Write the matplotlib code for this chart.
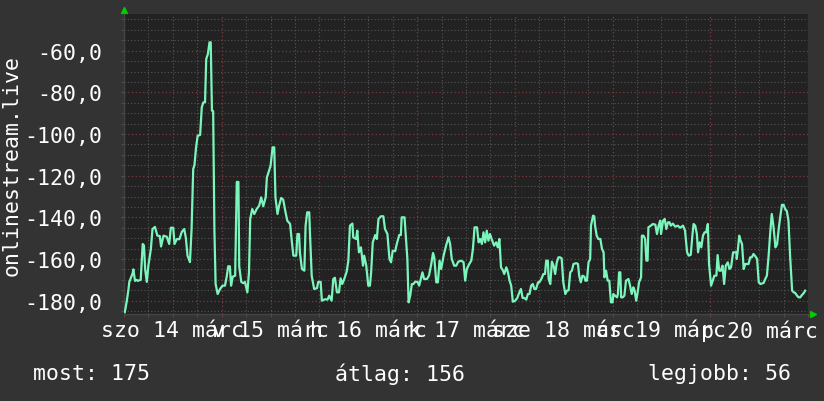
import matplotlib
matplotlib.use("Agg")
import matplotlib.pyplot as plt
import matplotlib.ticker as mticker
from matplotlib.transforms import blended_transform_factory

# hours since sat 14 march 00:00, and the plotted (negative) values
hours = [
    0.2, 0.7, 1.1, 1.3, 2.1, 2.3, 2.7, 3.1, 3.4, 4.1, 4.6, 4.9, 5.2, 5.6, 6.0,
    6.6, 7.0, 7.6, 8.2, 8.8, 9.1, 9.7, 10.5, 11.1, 11.5, 12.1, 12.4, 13.0, 13.6,
    14.2, 14.8, 15.2, 15.6, 16.2, 16.6, 17.0, 17.3, 17.7, 18.1, 18.7, 19.1, 19.5,
    19.9, 20.2, 20.6, 21.0, 21.3, 21.6, 21.9, 22.2, 22.5, 23.0, 23.6,
    24.2, 24.8, 25.2, 25.6, 26.0, 26.3, 26.7, 27.3, 27.7, 28.1, 28.3, 28.8, 29.3,
    29.7, 30.3, 30.7, 31.0, 31.5, 32.0, 32.6, 33.2, 33.7, 34.2, 34.8, 35.1, 35.5,
    36.0, 36.5, 36.9, 37.2, 37.7, 38.1, 38.6, 39.1, 39.6, 40.1, 40.8, 41.2, 41.6,
    42.3, 42.6, 43.0, 43.2, 43.7, 44.3, 44.6, 45.0, 45.5, 45.7, 46.1, 46.7, 47.4,
    47.7,
    48.3, 48.6, 49.4, 50.0, 50.4, 51.0, 51.4, 51.8, 52.3, 52.8, 53.2, 53.6, 54.1,
    54.7, 55.1, 55.5, 56.1, 56.3, 57.0, 57.3, 57.7, 58.2, 58.7, 59.0, 59.5, 60.0,
    60.4, 60.7, 61.1, 61.7, 62.1, 62.5, 63.1, 63.7, 64.1, 64.7, 65.2, 65.6, 66.0,
    66.6, 67.0, 67.6, 68.0, 68.2, 68.9, 69.2, 69.6, 69.9, 70.3, 70.7, 71.1, 71.5,
    72.1, 72.5, 72.9, 73.3, 73.7, 74.4, 74.9, 75.4, 75.9, 76.2, 76.7, 77.1, 77.5,
    77.9, 78.5, 79.1, 79.7, 80.1, 80.5, 81.1, 81.6, 82.1, 82.8, 83.4, 83.8, 84.2,
    84.8, 85.3, 85.7, 86.1, 86.7, 87.1, 87.5, 87.9, 88.3, 88.7, 89.1, 89.5, 89.9,
    90.3, 90.9, 91.4, 91.8, 92.2, 92.6, 93.1, 93.4, 93.9, 94.3, 94.7, 95.1, 95.5,
    96.1, 96.6, 97.1, 97.5, 97.9, 98.3, 98.8, 99.2, 99.6, 100.0, 100.4, 100.8,
    101.2, 101.7, 102.0, 102.5, 103.0, 103.4, 103.7, 104.1, 104.3, 104.7, 105.1,
    105.5, 105.9, 106.3, 106.7, 107.1, 107.5, 107.9, 108.4, 108.8, 109.2, 109.6,
    110.0, 110.4, 111.1, 111.5, 111.8, 112.2, 112.6, 113.1, 113.3, 113.7, 114.1,
    114.5, 114.7, 115.2, 115.5, 115.7, 116.1, 116.5, 117.0, 117.4, 117.8, 118.0,
    118.4, 118.8, 119.2, 119.6, 120.0, 120.2, 120.6, 121.1, 121.3, 121.6, 121.9,
    122.1, 122.5, 122.9, 123.3, 123.9, 124.3, 124.7, 125.1, 125.4, 125.8, 126.1,
    126.5, 127.0, 127.2, 127.6, 128.0, 128.3, 128.6, 128.8, 129.4, 129.9, 130.5,
    130.9, 131.3, 131.7, 131.9, 132.4, 132.8, 133.2, 133.6, 134.0, 134.3, 134.8,
    135.4, 136.0, 136.6, 137.3, 137.8, 138.3, 138.7, 139.2, 139.6, 139.9, 140.3,
    140.7, 141.0, 141.4, 141.8, 142.2, 142.6, 143.0, 143.4, 143.7, 144.2, 144.6,
    145.0, 145.5, 145.8, 146.2, 146.6, 147.0, 147.4, 147.8, 148.3, 148.7, 149.1,
    149.6, 150.4, 150.5, 150.8, 151.1, 151.4, 151.8, 152.2, 152.6, 153.4, 153.8,
    154.2, 154.6, 155.0, 155.5, 155.9, 156.3, 157.1, 157.5, 157.9, 158.3, 158.7,
    159.1, 159.5, 160.0, 160.4, 160.8, 161.2, 161.6, 162.0, 162.4, 162.8, 163.2,
    163.6, 164.1, 164.5, 164.9, 165.3, 165.7, 166.1, 166.5, 166.9, 167.3,
]
online = [
    -185.5, -180, -174.5, -171, -167, -165, -170.5, -170, -170.5, -170, -152.8,
    -153.5, -165, -171, -163, -155.2, -145.6, -144.6, -148.8, -149, -154, -148.8,
    -149.3, -152.8, -145, -145, -152.8, -150.4, -150.5, -147, -145.6, -150,
    -158.4, -161.5, -145.6, -116.8, -115, -106.4, -100.8, -100.5, -87.2, -84.8,
    -84.8, -64, -61.6, -56, -56, -88.8, -89, -145.6, -172, -176.8, -174.4,
    -172.8, -172.8, -168.7, -163.5, -163.5, -172.8, -168.5, -168, -123, -123,
    -163.5, -171, -171.6, -171, -176, -166.4, -140.8, -136, -138.4, -136,
    -134.4, -130.4, -134.7, -130.4, -120.8, -118.4, -115.2, -106.4, -106.4,
    -130.4, -138.4, -134.4, -130.7, -131.5, -136.8, -141.6, -143.2, -151.2,
    -158.4, -158.4, -148, -148, -156.8, -164.8, -165.6, -144, -137.6, -137.6,
    -148.8, -168, -174.4, -174, -171,
    -171, -180, -179.3, -179.5, -177.6, -180, -169.6, -169, -176, -176, -169.3,
    -172, -169.6, -166, -160.8, -144, -143, -149.6, -150.4, -146.4, -156.8,
    -154.4, -163.2, -158.4, -163.2, -172.8, -172.8, -166.4, -152, -148.5,
    -150.4, -140.8, -139.5, -139.5, -145.6, -148, -160, -161.6, -156, -156.3,
    -152.8, -148.5, -148.5, -140, -140, -148.8, -160, -180.8, -177.6, -172,
    -172, -170.9, -171, -172.8, -169.6, -166.4, -169.6, -169.6, -168, -163.2,
    -157.1, -159.2, -171.2, -171.2, -160.8, -164.8, -158.4, -153.6, -149.6,
    -152.8, -160, -163.2, -163.2, -161.3, -160.8, -161.5, -170.4, -164.8,
    -162.4, -160.8, -155.2, -144.8, -144.8, -152, -150.4, -152.8, -147.2, -152,
    -146.4, -151.2, -148, -150.4, -153.6, -152, -154.4, -150.4, -164, -165.6,
    -167.2, -164, -166.4, -170.4, -172.8, -180.5, -180, -178.7, -176, -174.4,
    -178.7, -178.7, -179.5, -176.8, -176.8, -172.8, -172, -174.4, -174.4,
    -171.2, -171.2, -169.6, -167.2, -167.2, -160.8, -160.8, -169.6, -172,
    -161.3, -163.2, -167.2, -161.6, -159.2, -159.2, -159.7, -171.2, -176.8,
    -175.2, -175, -166.4, -165.6, -162.4, -162, -162.4, -168, -171.2, -168,
    -168.5, -170.4, -170.4, -161.6, -160, -144, -139.2, -139.5, -144, -148.8,
    -150.4, -150.4, -155.2, -156.8, -168.8, -165.6, -170.4, -170.4, -180.8,
    -180.8, -176.8, -177.6, -178.4, -177, -166.4, -166.4, -178.4, -178.4,
    -177.6, -170.4, -169.6, -172.8, -176.8, -173.6, -175, -180, -176.8, -171.2,
    -168.8, -148.8, -148.8, -150.4, -160.8, -160.8, -144.8, -144, -143.2,
    -143.5, -148, -144, -141.6, -148, -141.6, -140.8, -145.6, -142.4, -142.4,
    -144, -143, -144.5, -144, -145, -144, -146.4, -156.8, -158.4, -158, -148.8,
    -143.2, -144, -148, -156.8, -152, -154.4, -148.8, -147.2, -147.2, -143.2,
    -162.4, -172.8, -170.4, -168, -168, -158.1, -165.6, -165.6, -163.2, -172,
    -163.2, -161.6, -164.8, -164, -156.8, -156.8, -160, -155.2, -148.8, -151,
    -152.8, -164.8, -162.4, -162.4, -159.2, -159.2, -157.6, -158.5, -160,
    -171.2, -172, -171.5, -169.6, -168, -159.2, -148, -138.4, -144, -154.4,
    -153, -145.6, -139.5, -134, -134, -136, -137, -141.6, -158.4, -175.2, -176,
    -176.4, -177.6, -178.4, -178.4, -177.3, -176.5, -175.2,
]

day_labels = ["szo 14 márc", "v 15 márc", "h 16 márc", "k 17 márc",
              "sze 18 márc", "cs 19 márc", "p 20 márc"]
y_label = "onlinestream.live"
stat_names = ["most", "átlag", "legjobb"]
stat_values = [175, 156, 56]

BG = "#333333"
PLOT_BG = "#222222"
LINE = "#7cf5bc"
MINOR = "#555555"
MAJOR = "#7a3a40"
FONT = "DejaVu Sans Mono"
FS = 15.5

fig = plt.figure(figsize=(8.24, 4.02), dpi=100, facecolor=BG)
ax = fig.add_axes([124 / 824, 87 / 402, 684 / 824, 300 / 402])
ax.set_facecolor(PLOT_BG)

ax.plot(hours, online, color=LINE, linewidth=1.6, zorder=5)

ax.set_xlim(0, 7 * 24)
ax.set_ylim(-186.4, -42.4)

# grid: grey every 6 h / 5 units, dark red every day / 20 units
ax.xaxis.set_major_locator(mticker.MultipleLocator(24))
ax.xaxis.set_minor_locator(mticker.MultipleLocator(6))
ax.yaxis.set_major_locator(mticker.MultipleLocator(20))
ax.yaxis.set_minor_locator(mticker.MultipleLocator(5))
ax.grid(which="minor", color=MINOR, linestyle=(0, (1, 2)), linewidth=0.8)
ax.grid(which="major", color=MAJOR, linestyle=(0, (1, 2)), linewidth=0.9)
ax.set_axisbelow(True)

ax.yaxis.set_major_formatter(
    mticker.FuncFormatter(lambda v, p: f"{v:.1f}".replace(".", ",")))
ax.xaxis.set_major_formatter(mticker.NullFormatter())
ax.tick_params(axis="y", which="major", labelsize=FS, labelcolor="white",
               length=2, color=MINOR, pad=14)
ax.tick_params(axis="both", which="minor", length=2, color=MINOR)
ax.tick_params(axis="x", which="major", length=2, color=MAJOR)
for lab in ax.get_yticklabels():
    lab.set_family(FONT)

for s in ["top", "right"]:
    ax.spines[s].set_visible(False)
for s in ["left", "bottom"]:
    ax.spines[s].set_color("#444444")
    ax.spines[s].set_linewidth(1)

# day labels centred on noon
trans = blended_transform_factory(ax.transData, ax.transAxes)
for i, lab in enumerate(day_labels):
    ax.text(i * 24 + 12, -0.053, lab, transform=trans, ha="center", va="center",
            fontsize=FS, color="white", family=FONT)

# little green arrows at the ends of the axes
ax.plot([0], [1.015], marker="^", color="#00cc00", markersize=5,
        transform=ax.transAxes, clip_on=False)
ax.plot([1.007], [0], marker=">", color="#00cc00", markersize=5,
        transform=ax.transAxes, clip_on=False)

fig.text(12 / 824, 0.5 + (402 / 2 - 165) / 402, y_label, rotation=90,
         ha="center", va="center", fontsize=FS, color="white", family=FONT)

stat_x = [33, 335, 648]
for name, val, x in zip(stat_names, stat_values, stat_x):
    fig.text(x / 824, 1 - 374 / 402, f"{name}: {val}", ha="left", va="center",
             fontsize=FS, color="white", family=FONT)

fig.savefig("out.png", dpi=100, facecolor=BG)
